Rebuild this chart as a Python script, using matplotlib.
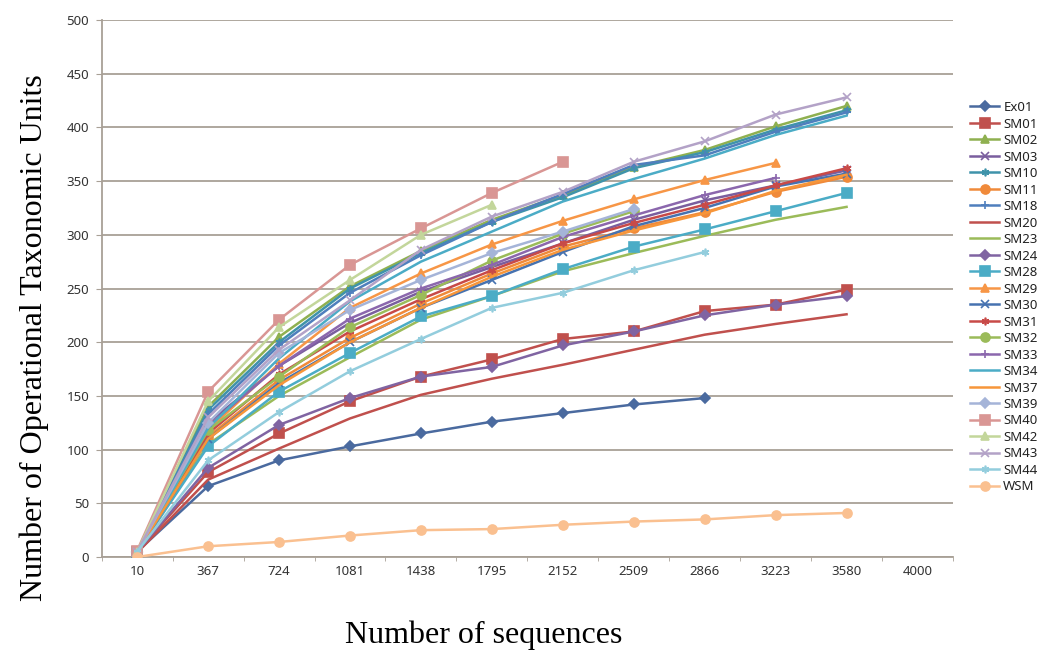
import numpy as np
import matplotlib
matplotlib.use("Agg")
import matplotlib.pyplot as plt

nan = np.nan

categories = ["10", "367", "724", "1081", "1438", "1795", "2152", "2509", "2866", "3223", "3580", "4000"]

Ex01 = [5, 66, 90, 103, 115, 126, 134, 142, 148, nan, nan]
SM01 = [5, 79, 115, 145, 168, 184, 203, 210, 229, 235, 249]
SM02 = [5, 140, 205, 252, 285, 314, 337, 363, 379, 401, 420]
SM03 = [5, 125, 178, 218, 247, 270, 292, 314, 332, 346, 360]
SM10 = [5, 137, 200, 250, 283, 312, 335, 362, 377, 398, 416]
SM11 = [5, 112, 165, 204, 236, 264, 289, 306, 321, 340, 354]
SM18 = [5, 133, 197, 246, 281, 312, 338, 365, 374, 396, 414]
SM20 = [4, 72, 101, 129, 151, 166, 179, 193, 207, 217, 226]
SM23 = [5, 105, 150, 186, 221, 243, 266, 283, 299, 314, 326]
SM24 = [5, 83, 123, 148, 168, 177, 197, 210, 225, 235, 243]
SM28 = [5, 103, 154, 190, 224, 243, 268, 289, 305, 322, 339]
SM29 = [5, 118, 180, 232, 264, 291, 313, 333, 351, 367, nan]
SM30 = [5, 110, 162, 200, 232, 258, 284, 308, 325, 345, 357]
SM31 = [5, 115, 170, 210, 240, 267, 292, 311, 328, 346, 362]
SM32 = [5, 118, 168, 214, 244, 276, 301, 322, nan, nan, nan]
SM33 = [5, 122, 178, 222, 250, 272, 298, 318, 337, 353, nan]
SM34 = [5, 120, 185, 238, 275, 303, 331, 352, 371, 393, 411]
SM37 = [5, 110, 160, 200, 232, 261, 286, 304, 320, 341, 356]
SM39 = [5, 125, 190, 230, 258, 283, 303, 324, nan, nan, nan]
SM40 = [6, 154, 221, 272, 306, 339, 368, nan, nan, nan, nan]
SM42 = [5, 145, 214, 258, 300, 328, nan, nan, nan, nan, nan]
SM43 = [5, 130, 193, 239, 286, 317, 340, 368, 387, 412, 428]
SM44 = [5, 90, 135, 173, 203, 232, 246, 267, 284, nan, nan]
WSM = [0, 10, 14, 20, 25, 26, 30, 33, 35, 39, 41]

series = [
    ("Ex01", Ex01, "#4a6a9f", "D"), ("SM01", SM01, "#c0504d", "s"),
    ("SM02", SM02, "#8fb050", "^"), ("SM03", SM03, "#7a5e9e", "x"),
    ("SM10", SM10, "#3f93aa", (6, 2, 0)), ("SM11", SM11, "#f08a3a", "o"),
    ("SM18", SM18, "#4f7fbd", "+"), ("SM20", SM20, "#c0504d", None),
    ("SM23", SM23, "#9bbb59", None), ("SM24", SM24, "#8064a2", "D"),
    ("SM28", SM28, "#4bacc6", "s"), ("SM29", SM29, "#f79646", "^"),
    ("SM30", SM30, "#4672b0", "x"), ("SM31", SM31, "#c84a48", (6, 2, 0)),
    ("SM32", SM32, "#9bbb59", "o"), ("SM33", SM33, "#8b67ad", "+"),
    ("SM34", SM34, "#4bacc6", None), ("SM37", SM37, "#f7963a", None),
    ("SM39", SM39, "#a5b4d8", "D"), ("SM40", SM40, "#d99694", "s"),
    ("SM42", SM42, "#c3d69b", "^"), ("SM43", SM43, "#b3a2c7", "x"),
    ("SM44", SM44, "#93cddd", (6, 2, 0)), ("WSM", WSM, "#fac090", "o"),
]

tick_font = "Noto Sans"
label_font = "Liberation Serif"

fig = plt.figure(figsize=(10.4, 6.52), dpi=100)
ax = fig.add_axes([0.0978, 0.1457, 0.8185, 0.8236])

x = np.arange(len(Ex01))
for name, vals, color, mk in series:
    ms = 6.5 if mk in ("s", "o") else 5.5
    ax.plot(x, vals, color=color, lw=1.8, marker=mk, ms=ms,
            markeredgecolor=color, markeredgewidth=1.2, label=name, zorder=3)

ax.set_xlim(-0.5, len(categories) - 0.5)
ax.set_ylim(0, 500)
ax.set_xticks(np.arange(len(categories)))
ax.set_xticklabels(categories)
ax.set_xticks(np.arange(len(categories) + 1) - 0.5, minor=True)
ax.tick_params(axis="x", which="major", length=0, pad=6)
ax.tick_params(axis="x", which="minor", length=3, color="#a8a096")
ax.set_yticks(np.arange(0, 501, 50))
ax.tick_params(axis="y", length=4, color="#a8a096", pad=5)
for lab in ax.get_xticklabels() + ax.get_yticklabels():
    lab.set_family(tick_font)
    lab.set_fontsize(9.5)
    lab.set_color("#333333")

ax.grid(axis="y", color="#a8a096", lw=1.3)
ax.set_axisbelow(True)
for side in ("top", "right"):
    ax.spines[side].set_visible(False)
for side in ("left", "bottom"):
    ax.spines[side].set_color("#a8a096")
    ax.spines[side].set_linewidth(1.3)

fig.text(0.033, 0.482, "Number of Operational Taxonomic Units", rotation=90,
         ha="center", va="center", family=label_font, fontsize=23)
fig.text(0.465, 0.026, "Number of sequences", ha="center", va="center",
         family=label_font, fontsize=23)

leg = fig.legend(loc="upper left", bbox_to_anchor=(0.933, 0.845), frameon=False,
                 prop={"family": tick_font, "size": 9.5}, handlelength=2.2,
                 handletextpad=0.3, labelspacing=0.265, borderaxespad=0, borderpad=0)
for t in leg.get_texts():
    t.set_color("#222222")

fig.savefig("out.png", dpi=100)
